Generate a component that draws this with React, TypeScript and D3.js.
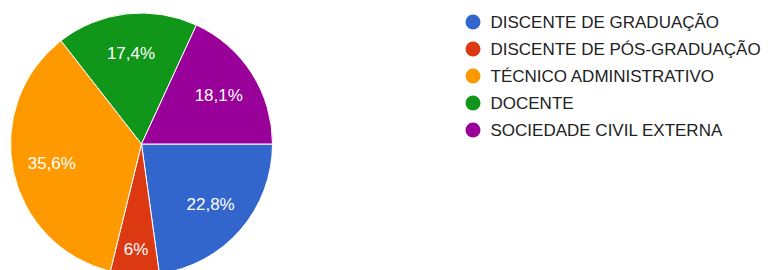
import * as d3 from "d3";
import React, { useRef, useEffect } from "react";

const categories = [
  "DISCENTE DE GRADUAÇÃO",
  "DISCENTE DE PÓS-GRADUAÇÃO",
  "TÉCNICO ADMINISTRATIVO",
  "DOCENTE",
  "SOCIEDADE CIVIL EXTERNA",
];
const values = [22.8, 6, 35.6, 17.4, 18.1];
const labels = ["22,8%", "6%", "35,6%", "17,4%", "18,1%"];
const colors = ["#3366cc", "#dc3912", "#ff9900", "#109618", "#990099"];

const width = 771;
const height = 270;
const cx = 141.5;
const cy = 144;
const radius = 131;
const font = "Arial, 'Liberation Sans', sans-serif";

const App = () => {
  const ref = useRef(null);

  useEffect(() => {
    const svg = d3.select(ref.current);
    svg.selectAll("*").remove();

    const pie = d3
      .pie<number>()
      .sort(null)
      .startAngle(Math.PI / 2)
      .endAngle(Math.PI / 2 + 2 * Math.PI);
    const arcs = pie(values);
    const arc = d3.arc<d3.PieArcDatum<number>>().innerRadius(0).outerRadius(radius);

    const g = svg.append("g").attr("transform", `translate(${cx}, ${cy})`);

    g.selectAll(".slice")
      .data(arcs)
      .join("path")
      .attr("class", "slice")
      .attr("d", arc)
      .attr("fill", (_, i) => colors[i])
      .attr("stroke", "#fff")
      .attr("stroke-width", 1);

    // labels: thin slices get pushed outwards
    g.selectAll(".label")
      .data(arcs)
      .join("text")
      .attr("class", "label")
      .attr("transform", (d) => {
        const span = d.endAngle - d.startAngle;
        const r = span < 0.5 ? radius * 0.8 : radius * 0.7;
        const a = (d.startAngle + d.endAngle) / 2;
        return `translate(${Math.sin(a) * r}, ${-Math.cos(a) * r})`;
      })
      .attr("text-anchor", "middle")
      .attr("dy", "0.35em")
      .attr("fill", "#fff")
      .attr("font-family", font)
      .attr("font-size", 17)
      .text((_, i) => labels[i]);

    // legend
    const legend = svg
      .append("g")
      .attr("transform", "translate(473, 22)")
      .selectAll(".item")
      .data(categories)
      .join("g")
      .attr("class", "item")
      .attr("transform", (_, i) => `translate(0, ${i * 27})`);

    legend
      .append("circle")
      .attr("r", 7.5)
      .attr("fill", (_, i) => colors[i]);

    legend
      .append("text")
      .attr("x", 17.5)
      .attr("dy", "0.35em")
      .attr("fill", "#222")
      .attr("font-family", font)
      .attr("font-size", 17)
      .text((d) => d);
  }, []);

  return (
    <svg
      ref={ref}
      width={width}
      height={height}
      style={{ position: "absolute", left: 0, top: 0, background: "#fff" }}
    ></svg>
  );
};

export default App;
